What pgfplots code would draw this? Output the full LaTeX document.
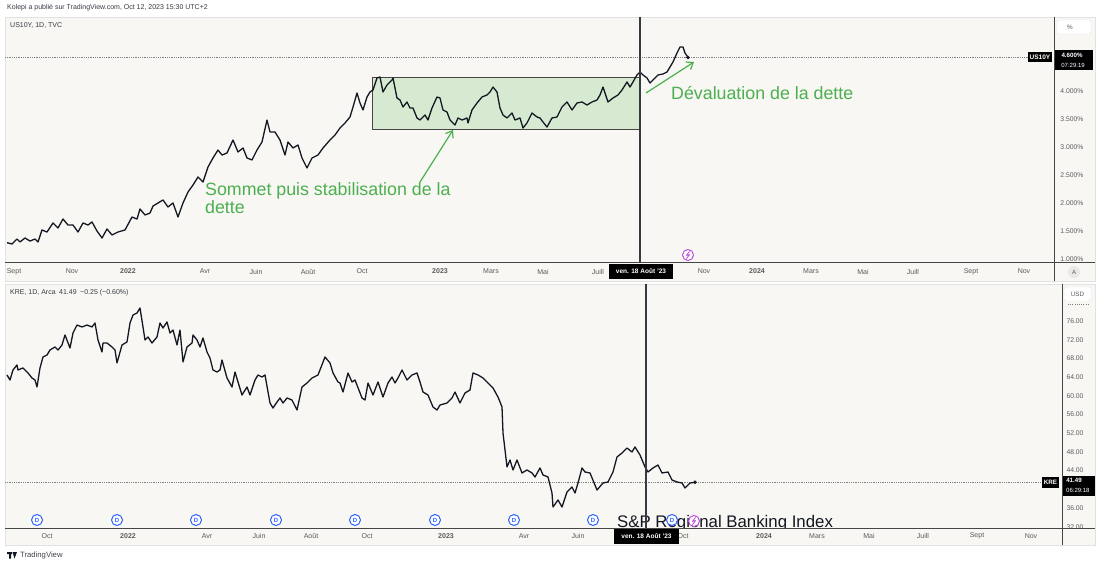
\documentclass[border=0pt]{standalone}
\usepackage{fontspec}
\setmainfont{Liberation Sans}
\usepackage{pgfplots}
\pgfplotsset{compat=1.18}
\usetikzlibrary{arrows.meta}
\definecolor{bg}{RGB}{248,247,243}
\definecolor{frm}{RGB}{226,226,226}
\definecolor{sep}{RGB}{70,70,70}
\definecolor{tvgreen}{RGB}{76,175,80}
\definecolor{tickc}{RGB}{90,90,90}
\definecolor{blueD}{RGB}{41,98,255}
\definecolor{purp}{RGB}{186,80,220}
\definecolor{boxg}{RGB}{214,234,210}
\definecolor{ink}{RGB}{19,23,34}
\newcommand{\fs}[1]{\fontsize{#1}{#1}\selectfont}
\begin{document}
\begin{tikzpicture}
\fill[white] (0pt,0pt) rectangle (1100pt,-567pt);
\useasboundingbox (0pt,0pt) rectangle (1100pt,-567pt);
\begin{scope}[x=1pt,y=-1pt]
 % header
 \node[anchor=west,inner sep=0,text=ink!85,font=\fs{7}] at (7,8) {Kolepi a publié sur TradingView.com, Oct 12, 2023 15:30 UTC+2};
 % panels
 \fill[bg,draw=frm] (5,17) rectangle (1095,281);
 \fill[bg,draw=frm] (5,284) rectangle (1095,545);
 \node[anchor=west,inner sep=0,text=ink!85,font=\fs{7}] at (10,26) {US10Y, 1D, TVC};
 \node[anchor=west,inner sep=0,text=ink!85,font=\fs{7}] at (10,293) {KRE, 1D, Arca\enspace 41.49\enspace −0.25 (−0.60\%)};
 % green box
 \fill[boxg,draw=sep,line width=0.8pt] (372,77) rectangle (640,129);
 % dotted price lines
 \draw[gray,line width=0.6pt,dash pattern=on 0.8pt off 1pt] (5,57.4) -- (1028,57.4);
 \draw[gray,line width=0.6pt,dash pattern=on 0.8pt off 1pt] (5,482.3) -- (1042,482.3);
 % S&P text, clipped by the time row
 \begin{scope}
  \clip (5,284) rectangle (1062,528);
  \node[anchor=base west,inner sep=0,text=ink,font=\fs{16.8}] at (617,527) {S\&P Regional Banking Index};
 \end{scope}
\end{scope}

\begin{axis}[
  at={(5pt,-262pt)}, anchor=south west,
  scale only axis, width=1049pt, height=245pt,
  xmin=5, xmax=1054, ymin=0.9464, ymax=5.3214,
  axis line style={draw=none}, major tick length=0pt,
  xtick={14,72,128,205,256,308,362,440,491,543,598,704,757,811,863,913,971,1024},
  xticklabels={Sept,Nov,\textbf{2022},Avr,Juin,Août,Oct,\textbf{2023},Mars,Mai,Juill,Nov,\textbf{2024},Mars,Mai,Juill,Sept,Nov},
  ytick={1,1.5,2,2.5,3,3.5,4},
  yticklabels={1.000\%,1.500\%,2.000\%,2.500\%,3.000\%,3.500\%,4.000\%},
  yticklabel pos=right,
  xticklabel style={anchor=center, yshift=-9.5pt, font=\fs{7}, text=tickc},
  yticklabel style={anchor=center, xshift=18pt, font=\fs{6.8}, text=tickc},
]
\addplot[ink, line width=1.3pt, line join=round, mark=none] coordinates {
(7,1.291)(12,1.268)(17,1.357)(20,1.304)(25,1.375)(30,1.321)(35,1.357)(38,1.304)(42,1.518)(47,1.482)(53,1.643)(58,1.554)(63,1.714)(68,1.607)(73,1.607)(78,1.482)(83,1.643)(88,1.607)(92,1.661)(97,1.500)(102,1.375)(107,1.536)(112,1.429)(118,1.482)(125,1.518)(132,1.750)(137,1.714)(140,1.893)(145,1.786)(150,1.821)(153,1.946)(158,2.000)(163,2.054)(168,1.929)(173,2.000)(178,1.750)(183,2.000)(188,2.196)(193,2.321)(198,2.464)(203,2.375)(208,2.643)(213,2.804)(218,2.946)(222,2.857)(227,2.893)(233,3.125)(238,2.911)(243,2.982)(247,2.804)(252,2.768)(257,2.946)(262,3.089)(267,3.482)(270,3.268)(275,3.268)(280,3.125)(285,2.857)(288,3.089)(293,2.982)(298,3.036)(302,2.804)(307,2.625)(312,2.804)(318,2.857)(323,2.982)(330,3.125)(335,3.214)(340,3.339)(345,3.429)(350,3.536)(353,3.714)(357,3.964)(360,3.786)(363,3.661)(367,3.893)(370,3.982)(373,4.018)(377,4.232)(380,4.250)(383,3.982)(387,4.107)(392,4.196)(393,4.232)(397,3.875)(400,3.839)(403,3.714)(407,3.804)(410,3.696)(413,3.696)(417,3.518)(420,3.482)(425,3.571)(428,3.482)(432,3.696)(437,3.893)(440,3.875)(443,3.661)(447,3.625)(450,3.482)(455,3.393)(458,3.518)(462,3.482)(467,3.518)(468,3.429)(472,3.661)(477,3.786)(482,3.893)(487,3.929)(490,3.982)(493,4.071)(497,3.982)(500,3.696)(503,3.571)(507,3.518)(512,3.607)(515,3.482)(520,3.518)(523,3.339)(527,3.429)(532,3.607)(537,3.536)(540,3.518)(543,3.446)(547,3.357)(552,3.518)(557,3.536)(562,3.714)(567,3.804)(572,3.661)(577,3.786)(582,3.804)(587,3.750)(592,3.804)(597,3.839)(600,3.929)(603,4.071)(608,3.804)(613,3.875)(618,3.929)(622,4.018)(627,4.161)(630,4.071)(633,4.161)(637,4.286)(640,4.339)(643,4.286)(647,4.232)(650,4.143)(653,4.196)(658,4.286)(663,4.304)(667,4.339)(670,4.429)(673,4.518)(677,4.679)(680,4.786)(683,4.786)(685,4.679)(688,4.600)
};
\addplot[only marks, mark=*, mark size=1.6pt, ink] coordinates {(688,4.600)};
\end{axis}

\begin{axis}[
  at={(5pt,-528pt)}, anchor=south west,
  scale only axis, width=1057pt, height=243pt,
  xmin=5, xmax=1062, ymin=31.72, ymax=83.70,
  axis line style={draw=none}, major tick length=0pt,
  xtick={47,128,207,259,311,367,446,524,578,683,764,817,869,923,977,1031},
  xticklabels={Oct,\textbf{2022},Avr,Juin,Août,Oct,\textbf{2023},Avr,Juin,Oct,\textbf{2024},Mars,Mai,Juill,Sept,Nov},
  ytick={36,44,48,52,56,60,64,68,72,76},
  yticklabels={36.00,44.00,48.00,52.00,56.00,60.00,64.00,68.00,72.00,76.00},
  yticklabel pos=right,
  xticklabel style={anchor=center, yshift=-8pt, font=\fs{7}, text=tickc},
  yticklabel style={anchor=center, xshift=13pt, font=\fs{6.8}, text=tickc},
]
\addplot[ink, line width=1.3pt, line join=round, mark=none] coordinates {
(7,64.45)(10,63.38)(13,65.52)(17,66.59)(18,65.52)(23,65.95)(28,64.88)(32,63.81)(35,63.38)(37,61.88)(40,65.95)(43,68.30)(47,68.73)(50,69.80)(55,70.44)(58,69.80)(62,70.87)(65,73.01)(70,70.22)(73,73.43)(77,75.14)(82,74.72)(87,75.14)(92,74.72)(95,75.57)(98,71.94)(102,69.37)(103,71.29)(107,71.29)(112,70.44)(115,69.80)(117,67.02)(122,70.87)(127,71.51)(130,75.57)(133,77.28)(137,77.71)(140,78.78)(143,74.72)(145,71.94)(148,72.58)(152,71.29)(157,72.58)(160,75.57)(163,74.50)(167,75.79)(170,73.43)(173,74.07)(177,70.87)(180,74.07)(183,67.23)(187,70.44)(192,71.29)(193,73.01)(197,71.94)(200,70.44)(203,72.36)(207,69.37)(210,68.09)(213,65.52)(217,65.09)(220,65.52)(222,67.66)(227,63.81)(232,61.88)(235,65.09)(238,62.95)(242,60.17)(247,61.88)(250,60.17)(255,63.38)(258,64.45)(262,64.02)(265,64.45)(270,58.46)(273,57.39)(277,58.67)(280,59.53)(283,58.46)(287,59.53)(292,59.10)(297,56.96)(302,61.88)(307,62.74)(312,63.81)(318,64.45)(325,68.30)(330,67.02)(333,64.88)(338,62.95)(340,62.74)(343,60.81)(348,64.88)(352,62.95)(355,63.38)(362,59.53)(365,59.10)(368,62.74)(373,60.17)(378,62.95)(383,59.74)(388,62.74)(392,64.02)(395,62.74)(398,63.81)(402,65.52)(407,63.38)(412,64.45)(417,64.88)(420,62.95)(423,60.81)(428,60.17)(433,57.60)(437,56.96)(440,58.03)(447,58.46)(452,59.53)(455,60.81)(460,58.46)(465,60.60)(470,61.24)(473,64.88)(478,64.45)(483,63.81)(488,62.74)(493,61.67)(498,59.74)(502,57.60)(503,52.04)(505,48.41)(507,44.77)(510,46.27)(513,44.13)(517,46.27)(522,43.49)(527,44.13)(532,43.49)(535,42.63)(540,44.56)(543,43.06)(548,42.63)(552,39.21)(553,36.21)(558,37.71)(562,36.21)(567,39.42)(572,40.49)(575,39.21)(578,41.35)(582,44.56)(585,43.70)(590,43.49)(597,39.85)(603,41.35)(608,41.56)(613,43.70)(617,46.91)(622,47.76)(627,48.83)(632,47.98)(635,49.05)(640,47.34)(645,44.77)(648,43.70)(653,44.56)(658,45.20)(662,43.49)(668,43.70)(672,41.99)(677,41.56)(682,41.35)(685,40.28)(690,41.35)(695,41.49)
};
\addplot[only marks, mark=*, mark size=1.6pt, ink] coordinates {(695,41.49)};
\end{axis}

\begin{scope}[x=1pt,y=-1pt]
 % separators
 \draw[sep,line width=0.9pt] (5,262.5) -- (1095,262.5);
 \draw[sep,line width=0.9pt] (1054,17) -- (1054,281);
 \draw[sep,line width=0.9pt] (5,528) -- (1095,528);
 \draw[sep,line width=0.9pt] (1062,284) -- (1062,545);
 % 32.00 label partly hidden
 \begin{scope}
  \clip (1063,515) rectangle (1095,527.5);
  \node[inner sep=0,text=tickc,font=\fs{6.8}] at (1075,527) {32.00};
 \end{scope}
 % crosshair
 \draw[ink!85,line width=1.2pt] (640,17) -- (640,263);
 \draw[ink!85,line width=1.2pt] (646,284) -- (646,528);
 \fill[black] (609,264) rectangle (673,279);
 \node[inner sep=0,text=white,font=\fs{6.5}\bfseries] at (641,271.5) {ven. 18 Août '23};
 \fill[black] (614,529) rectangle (679,544);
 \node[inner sep=0,text=white,font=\fs{6.5}\bfseries] at (646.5,536.5) {ven. 18 Août '23};
 % annotations
 \node[anchor=base west,inner sep=0,text=tvgreen,font=\fs{17.8}] at (205,195) {Sommet puis stabilisation de la};
 \node[anchor=base west,inner sep=0,text=tvgreen,font=\fs{17.8}] at (205,213) {dette};
 \node[anchor=base west,inner sep=0,text=tvgreen,font=\fs{17.8}] at (671,100) {Dévaluation de la dette};
 \draw[tvgreen,line width=1.2pt,-{Straight Barb[length=6pt,width=9pt]}] (420,182) -- (453,130);
 \draw[tvgreen,line width=1.2pt,-{Straight Barb[length=6pt,width=9pt]}] (646,93) -- (694,62);
 % price labels
 \fill[black] (1028,52.5) rectangle (1052,62.5);
 \node[inner sep=0,text=white,font=\fs{6.5}\bfseries] at (1040,57.5) {US10Y};
 \fill[black] (1055,50.5) rectangle (1093,70.5);
 \node[inner sep=0,text=white,font=\fs{6.2}\bfseries] at (1072,55.6) {4.600\%};
 \node[inner sep=0,text=white,font=\fs{6}] at (1073,65.4) {07:29:19};
 \fill[black] (1042,477) rectangle (1059,487.5);
 \node[inner sep=0,text=white,font=\fs{6.3}\bfseries] at (1050.5,482.3) {KRE};
 \fill[black] (1063,475.5) rectangle (1095,495.5);
 \node[inner sep=0,text=white,font=\fs{6.2}\bfseries] at (1074,480.8) {41.49};
 \node[inner sep=0,text=white,font=\fs{6},anchor=west] at (1066,490.6) {06:29:18};
 % unit boxes
 \fill[white,draw=frm,rounded corners=2pt] (1057,20) rectangle (1091,34);
 \node[inner sep=0,text=tickc,font=\fs{6.3}] at (1070,27) {\%};
 \fill[white,draw=frm,rounded corners=2pt] (1064,287) rectangle (1091,301);
 \node[inner sep=0,text=tickc,font=\fs{6.3}] at (1077.5,294) {USD};
 \draw[gray,line width=0.6pt,dash pattern=on 1pt off 1.2pt] (1068,304) -- (1088,304);
 \fill[frm!80] (1074,272) circle (6);
 \node[inner sep=0,text=tickc,font=\fs{6}] at (1074,272) {A};
 % dividend markers
 \foreach \xx in {37,117,196,276,355,435,514,593,672} {
   \fill[white,draw=blueD,line width=1pt] (\xx,520) circle (5.5);
   \node[inner sep=0,text=blueD,font=\fs{6}\bfseries] at (\xx,520) {D};
 }
 % lightning markers
 \foreach \xx/\yy in {688/255,694/521} {
   \fill[white,draw=purp,line width=1pt] (\xx,\yy) circle (5.5);
   \draw[purp,line width=0.8pt,line join=round] (\xx+1.6,\yy-3.6) -- (\xx-1.6,\yy+0.4) -- (\xx+1.6,\yy-0.4) -- (\xx-1.6,\yy+3.6);
 }
 % footer
 \fill[ink] (7,552) rectangle (12,554) (9,552) rectangle (11,558.5);
 \fill[ink] (12.5,552) -- (17,552) -- (14.5,558.5) -- cycle;
 \node[anchor=west,inner sep=0,text=ink!80,font=\fs{7.7}] at (20,555.5) {TradingView};
\end{scope}
\end{tikzpicture}
\end{document}
